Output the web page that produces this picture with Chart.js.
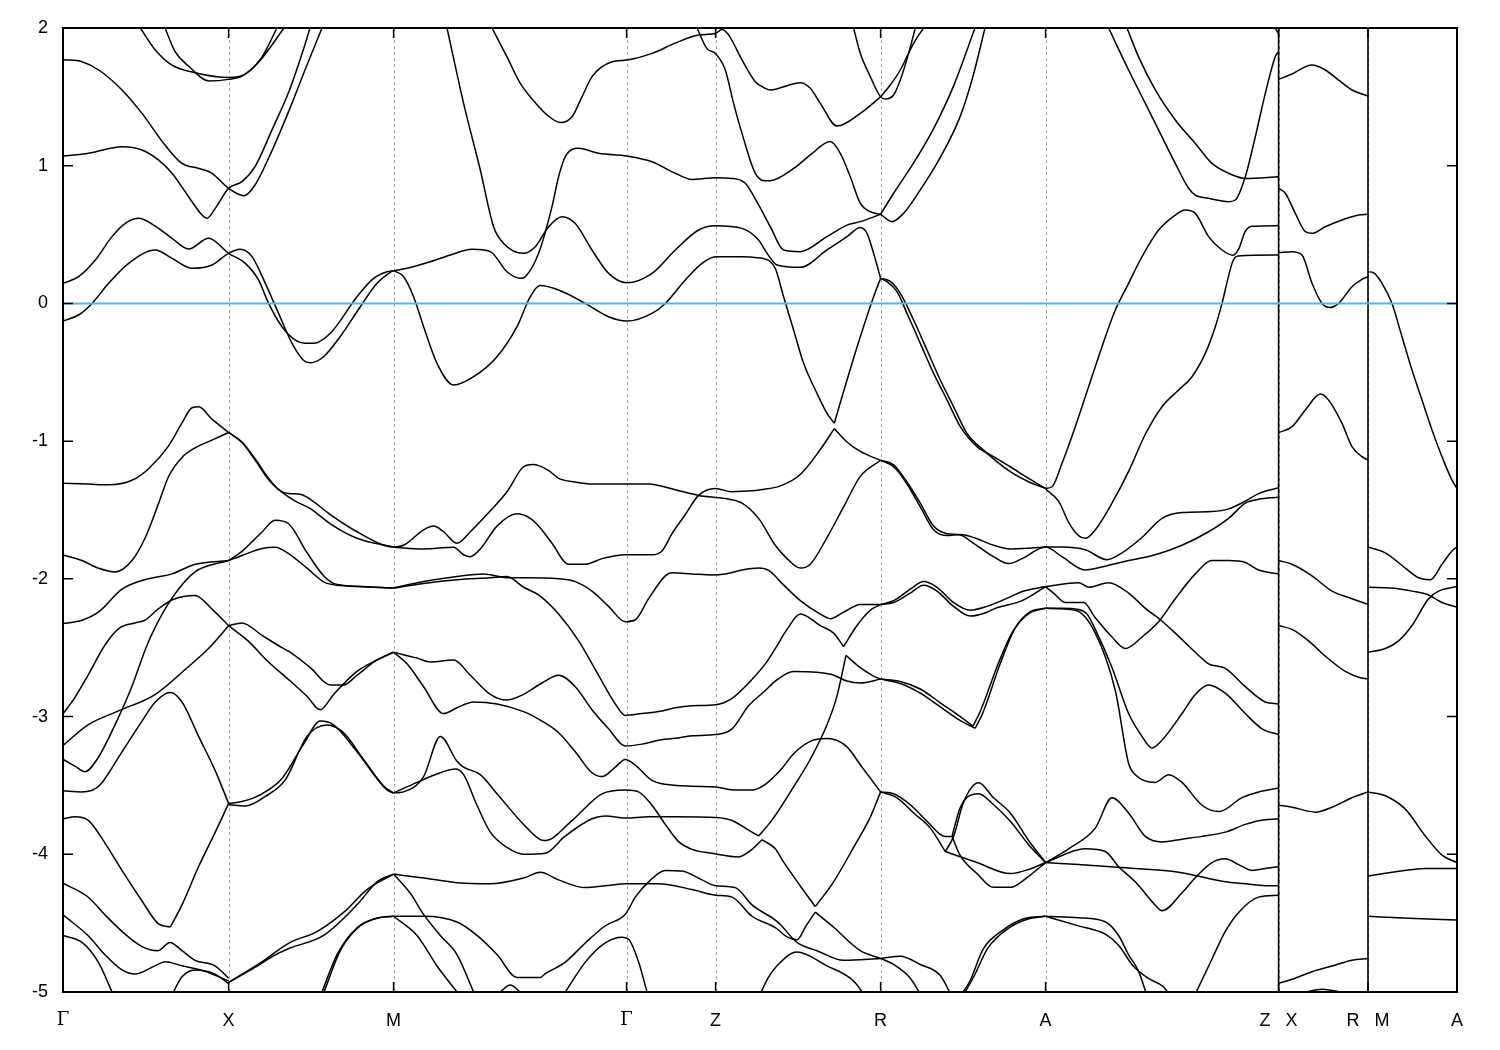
<!DOCTYPE html>
<html>
<head>
<meta charset="utf-8">
<script src="https://cdn.jsdelivr.net/npm/chart.js@4/dist/chart.umd.min.js"></script>
<style>
  body { margin: 0; background: #fff; }
</style>
</head>
<body>
<canvas id="bandChart" width="1500" height="1050"></canvas>
<script>
// high-symmetry points along the k-path
const kPoints = [0, 1.656, 3.306, 5.636, 6.526, 8.176, 9.826, 12.156, 13.05, 13.94];
const kLabels = ['Γ', 'X', 'M', 'Γ', 'Z', 'R', 'A', 'Z   X', 'R   M', 'A'];
const energyTicks = [2, 1, 0, -1, -2, -3, -4, -5];
const fermiLevel = 0;
const pathJumps = [12.156, 13.05];

// bands, each one a list of [k, E(eV)]
const bandsGX = [
  [[0.773,2.0],[0.923,1.84],[1.09,1.73],[1.32,1.675],[1.656,1.64],[1.82,1.665],[1.99,1.79],[2.14,2.0]],
  [[1.02,2.0],[1.12,1.83],[1.26,1.72],[1.46,1.615],[1.656,1.627],[1.79,1.65],[1.96,1.755],[2.21,2.0]],
  [[0,1.77],[0.19,1.755],[0.357,1.695],[0.59,1.55],[0.79,1.38],[1.02,1.15],[1.19,1.017],[1.36,0.98],[1.49,0.945],[1.656,0.836],[1.81,0.782],[1.92,0.86],[2.09,1.11],[2.26,1.40],[2.42,1.695],[2.59,2.0]],
  [[0,1.07],[0.256,1.09],[0.59,1.138],[0.79,1.114],[0.957,1.04],[1.09,0.945],[1.256,0.775],[1.39,0.642],[1.44,0.618],[1.523,0.69],[1.656,0.836],[1.79,0.884],[1.92,0.993],[2.09,1.26],[2.26,1.54],[2.42,1.88],[2.47,2.0]],
  [[0,0.146],[0.156,0.194],[0.323,0.315],[0.49,0.485],[0.623,0.581],[0.756,0.618],[0.923,0.562],[1.09,0.473],[1.256,0.395],[1.456,0.473],[1.656,0.364],[1.823,0.291],[1.956,0.17],[2.056,0.0],[2.19,-0.169],[2.323,-0.266],[2.423,-0.29],[2.506,-0.29],[2.673,-0.217],[2.94,0.049],[3.106,0.182],[3.24,0.23],[3.306,0.238]],
  [[0,-0.128],[0.156,-0.084],[0.29,0.0],[0.456,0.146],[0.656,0.291],[0.923,0.388],[1.09,0.327],[1.29,0.255],[1.49,0.279],[1.656,0.364],[1.773,0.393],[1.89,0.34],[2.023,0.146],[2.156,-0.072],[2.29,-0.29],[2.423,-0.423],[2.473,-0.43],[2.606,-0.387],[2.773,-0.24],[2.973,-0.024],[3.14,0.146],[3.273,0.226],[3.306,0.238]],
  [[0,-1.306],[0.256,-1.312],[0.456,-1.317],[0.69,-1.284],[0.856,-1.20],[1.056,-1.034],[1.19,-0.868],[1.29,-0.757],[1.356,-0.751],[1.49,-0.84],[1.656,-0.937]],
  [[0,-1.826],[0.19,-1.867],[0.357,-1.923],[0.523,-1.95],[0.69,-1.867],[0.823,-1.70],[0.957,-1.45],[1.056,-1.257],[1.19,-1.118],[1.323,-1.048],[1.49,-0.993],[1.656,-0.937]],
  [[1.656,-0.937],[1.79,-1.006],[1.923,-1.13],[2.056,-1.27],[2.156,-1.353],[2.256,-1.38],[2.373,-1.385],[2.473,-1.422],[2.673,-1.533],[2.94,-1.658],[3.206,-1.756],[3.306,-1.77]],
  [[1.656,-0.937],[1.79,-1.01],[1.923,-1.14],[2.056,-1.28],[2.19,-1.37],[2.323,-1.436],[2.473,-1.49],[2.673,-1.60],[2.94,-1.705],[3.306,-1.77]],
  [[0,-2.325],[0.19,-2.3],[0.357,-2.24],[0.59,-2.075],[0.823,-2.005],[1.09,-1.964],[1.323,-1.894],[1.656,-1.867]],
  [[0,-2.98],[0.12,-2.86],[0.25,-2.70],[0.42,-2.48],[0.56,-2.36],[0.72,-2.32],[0.82,-2.30],[0.95,-2.22],[1.1,-2.15],[1.32,-2.12],[1.49,-2.22],[1.656,-2.34]],
  [[0,-3.21],[0.25,-3.06],[0.55,-2.96],[0.92,-2.84],[1.25,-2.64],[1.45,-2.51],[1.656,-2.34]],
  [[0,-3.31],[0.12,-3.36],[0.22,-3.40],[0.35,-3.30],[0.52,-3.06],[0.69,-2.78],[0.83,-2.5],[0.93,-2.34],[1.09,-2.14],[1.32,-1.95],[1.656,-1.867]],
  [[1.656,-1.867],[1.79,-1.80],[1.99,-1.66],[2.12,-1.575],[2.256,-1.60],[2.44,-1.81],[2.606,-1.978],[2.706,-2.033],[2.94,-2.053],[3.306,-2.067]],
  [[1.656,-1.867],[1.79,-1.83],[1.99,-1.78],[2.12,-1.77],[2.273,-1.825],[2.44,-1.922],[2.64,-2.033],[2.94,-2.056],[3.306,-2.067]],
  [[1.656,-2.34],[1.79,-2.32],[1.99,-2.41],[2.19,-2.50],[2.273,-2.533],[2.473,-2.644],[2.673,-2.77],[2.806,-2.77],[2.94,-2.70],[3.14,-2.589],[3.306,-2.533]],
  [[1.656,-2.34],[1.85,-2.45],[2.05,-2.6],[2.273,-2.742],[2.44,-2.853],[2.573,-2.95],[2.706,-2.839],[2.94,-2.672],[3.14,-2.589],[3.306,-2.533]],
  [[0,-3.539],[0.19,-3.547],[0.357,-3.506],[0.59,-3.256],[0.79,-3.033],[0.923,-2.894],[1.073,-2.825],[1.19,-2.894],[1.356,-3.144],[1.523,-3.394],[1.656,-3.631]],
  [[0,-3.742],[0.123,-3.728],[0.256,-3.756],[0.423,-3.922],[0.59,-4.117],[0.79,-4.339],[0.956,-4.506],[1.073,-4.528]],
  [[1.073,-4.528],[1.19,-4.367],[1.356,-4.089],[1.523,-3.839],[1.656,-3.631]],
  [[1.656,-3.631],[1.79,-3.617],[1.99,-3.561],[2.19,-3.45],[2.406,-3.20],[2.573,-3.033],[2.706,-3.061],[2.94,-3.255],[3.206,-3.505],[3.306,-3.555]],
  [[1.656,-3.64],[1.823,-3.65],[2.023,-3.58],[2.223,-3.46],[2.44,-3.144],[2.64,-3.061],[2.806,-3.117],[3.006,-3.311],[3.24,-3.533],[3.306,-3.555]],
  [[0,-4.21],[0.25,-4.31],[0.42,-4.44],[0.59,-4.56],[0.79,-4.67],[0.95,-4.70],[1.07,-4.64],[1.19,-4.70],[1.32,-4.77],[1.52,-4.81],[1.656,-4.90]],
  [[0,-4.44],[0.25,-4.59],[0.42,-4.73],[0.59,-4.84],[0.72,-4.87],[0.92,-4.81],[1.02,-4.78],[1.19,-4.81],[1.42,-4.85],[1.656,-4.92]],
  [[0,-4.59],[0.19,-4.64],[0.35,-4.78],[0.52,-5.05]],
  [[1.07,-5.05],[1.19,-4.89],[1.32,-4.84],[1.52,-4.87],[1.656,-4.94]],
  [[1.656,-4.93],[1.9,-4.83],[2.15,-4.72],[2.273,-4.68],[2.606,-4.589],[2.94,-4.367],[3.14,-4.20],[3.306,-4.144]],
  [[1.656,-4.93],[1.95,-4.80],[2.273,-4.64],[2.54,-4.561],[2.806,-4.422],[3.04,-4.256],[3.306,-4.144]],
  [[2.59,-5.0],[2.74,-4.728],[2.94,-4.533],[3.14,-4.464],[3.306,-4.45]],
  [[2.61,-5.0],[2.773,-4.70],[2.973,-4.519],[3.173,-4.458],[3.306,-4.45]]
];

const bandsMZ = [
  [[3.306,0.238],[3.44,0.255],[3.673,0.303],[3.873,0.352],[4.09,0.393],[4.273,0.376],[4.44,0.23],[4.573,0.182],[4.623,0.194],[4.756,0.364],[4.89,0.703],[4.956,0.92],[5.023,1.066],[5.156,1.126],[5.356,1.09],[5.64,1.07],[5.89,1.029],[6.123,0.945],[6.29,0.90],[6.526,0.913],[6.69,0.908],[6.823,0.872],[6.956,0.715],[7.073,0.557],[7.206,0.388],[7.373,0.376],[7.64,0.485],[7.84,0.569],[7.973,0.594],[8.176,0.647]],
  [[3.306,0.238],[3.406,0.194],[3.506,0.049],[3.606,-0.169],[3.74,-0.435],[3.906,-0.593],[4.106,-0.532],[4.34,-0.387],[4.54,-0.169],[4.673,0.049],[4.77,0.13],[4.956,0.097],[5.223,0.0],[5.456,-0.097],[5.64,-0.128],[5.89,-0.072],[6.023,0.0],[6.223,0.17],[6.39,0.291],[6.526,0.339],[6.79,0.339],[6.923,0.334],[7.073,0.303],[7.123,0.255],[7.206,0.049],[7.306,-0.193],[7.406,-0.435],[7.54,-0.653],[7.64,-0.798],[7.713,-0.87]],
  [[3.84,2.0],[4.006,1.453],[4.173,0.969],[4.306,0.557],[4.406,0.436],[4.606,0.364],[4.723,0.412],[4.856,0.557],[4.99,0.63],[5.123,0.58],[5.29,0.388],[5.456,0.218],[5.64,0.15],[5.89,0.218],[6.123,0.388],[6.356,0.533],[6.526,0.564],[6.79,0.545],[6.956,0.46],[7.04,0.364],[7.14,0.279],[7.373,0.262],[7.64,0.388],[7.84,0.485],[7.973,0.552],[8.04,0.509],[8.106,0.364],[8.176,0.182]],
  [[4.29,2.0],[4.44,1.79],[4.573,1.598],[4.773,1.417],[4.823,1.38],[4.973,1.313],[5.09,1.356],[5.19,1.50],[5.29,1.647],[5.49,1.755],[5.64,1.768],[5.89,1.816],[6.123,1.89],[6.356,1.95],[6.523,1.96],[6.59,1.99],[6.656,1.95],[6.79,1.768],[6.923,1.61],[7.023,1.562],[7.073,1.55],[7.373,1.603],[7.473,1.562],[7.573,1.453],[7.74,1.288],[7.973,1.38],[8.176,1.50]],
  [[6.34,2.0],[6.44,1.85],[6.523,1.816],[6.623,1.695],[6.706,1.453],[6.79,1.235],[6.923,0.945],[7.023,0.89],[7.073,0.891],[7.306,0.98],[7.473,1.078],[7.673,1.175],[7.773,1.09],[7.873,0.92],[7.973,0.727],[8.073,0.666],[8.176,0.647]],
  [[3.306,-1.77],[3.406,-1.756],[3.606,-1.644],[3.706,-1.617],[3.806,-1.658],[3.94,-1.742],[4.073,-1.658],[4.273,-1.506],[4.44,-1.367],[4.606,-1.186],[4.70,-1.17],[4.85,-1.21],[4.956,-1.27],[5.123,-1.297],[5.29,-1.311],[5.623,-1.311],[5.856,-1.311],[6.123,-1.353],[6.356,-1.394],[6.623,-1.417],[6.79,-1.45],[6.956,-1.561],[7.123,-1.756],[7.24,-1.853],[7.373,-1.922],[7.473,-1.894],[7.64,-1.70],[7.806,-1.478],[7.973,-1.256],[8.176,-1.139]],
  [[3.306,-1.77],[3.606,-1.783],[3.906,-1.77],[4.006,-1.825],[4.073,-1.839],[4.173,-1.783],[4.34,-1.617],[4.54,-1.528],[4.673,-1.561],[4.756,-1.617],[4.89,-1.742],[5.056,-1.894],[5.223,-1.894],[5.39,-1.853],[5.623,-1.825],[5.89,-1.825],[5.99,-1.797],[6.09,-1.672],[6.223,-1.533],[6.356,-1.394],[6.523,-1.344],[6.69,-1.367],[6.89,-1.361],[6.973,-1.353],[7.173,-1.325],[7.373,-1.242],[7.573,-1.061],[7.713,-0.909]],
  [[3.306,-2.067],[3.606,-2.02],[3.94,-1.983],[4.206,-1.964],[4.44,-1.992],[4.623,-1.992],[4.956,-2.0],[5.123,-2.02],[5.29,-2.089],[5.456,-2.20],[5.623,-2.311],[5.723,-2.297],[5.856,-2.144],[6.023,-1.978],[6.09,-1.956],[6.29,-1.964],[6.49,-1.972],[6.623,-1.964],[6.79,-1.936],[6.956,-1.922],[7.06,-1.94],[7.2,-2.04],[7.373,-2.158],[7.573,-2.256],[7.673,-2.289],[7.806,-2.242],[7.973,-2.186],[8.176,-2.186]],
  [[3.306,-2.067],[3.606,-2.033],[3.94,-2.006],[4.273,-1.992],[4.44,-1.983],[4.606,-2.061],[4.756,-2.117],[4.956,-2.256],[5.156,-2.45],[5.356,-2.70],[5.523,-2.908],[5.623,-2.992],[5.79,-2.978],[5.956,-2.964],[6.123,-2.936],[6.29,-2.922],[6.526,-2.914],[6.69,-2.867],[6.856,-2.756],[7.023,-2.617],[7.123,-2.506],[7.24,-2.367],[7.373,-2.256],[7.573,-2.339],[7.706,-2.394],[7.806,-2.492]],
  [[7.806,-2.492],[7.94,-2.339],[8.073,-2.228],[8.176,-2.186]],
  [[3.306,-2.533],[3.54,-2.575],[3.673,-2.603],[3.906,-2.589],[4.073,-2.70],[4.273,-2.839],[4.44,-2.88],[4.606,-2.839],[4.79,-2.756],[4.956,-2.70],[5.123,-2.783],[5.29,-2.95],[5.456,-3.089],[5.623,-3.214],[5.79,-3.20],[5.956,-3.172],[6.123,-3.158],[6.29,-3.139],[6.526,-3.131],[6.69,-3.089],[6.856,-2.922],[7.023,-2.811],[7.123,-2.742],[7.306,-2.672],[7.54,-2.678],[7.689,-2.694],[7.84,-2.742],[7.973,-2.756],[8.176,-2.728]],
  [[3.306,-2.533],[3.44,-2.617],[3.606,-2.783],[3.806,-2.978],[3.94,-2.936],[4.106,-2.894],[4.34,-2.908],[4.606,-2.964],[4.79,-3.033],[4.956,-3.117],[5.123,-3.256],[5.29,-3.408],[5.39,-3.436],[5.523,-3.367],[5.623,-3.311],[5.723,-3.353],[5.89,-3.464],[6.023,-3.492],[6.29,-3.506],[6.526,-3.511],[6.723,-3.533],[6.89,-3.533],[7.023,-3.492],[7.173,-3.39],[7.306,-3.27],[7.473,-3.18],[7.64,-3.16],[7.84,-3.22],[7.973,-3.35],[8.176,-3.547]],
  [[3.306,-3.555],[3.406,-3.547],[3.606,-3.436],[3.773,-3.144],[3.94,-3.325],[4.006,-3.367],[4.173,-3.422],[4.34,-3.561],[4.606,-3.783],[4.773,-3.894],[4.823,-3.90],[5.09,-3.755],[5.39,-3.561],[5.623,-3.533],[5.756,-3.547],[5.89,-3.644],[6.023,-3.783],[6.156,-3.908],[6.29,-3.964],[6.49,-3.992],[6.756,-4.019],[6.89,-3.964],[6.99,-3.894]],
  [[6.99,-3.894],[7.123,-3.96],[7.2,-4.05],[7.373,-4.23],[7.523,-4.38]],
  [[7.523,-4.38],[7.706,-4.20],[7.906,-3.95],[8.073,-3.73],[8.176,-3.547]],
  [[3.306,-3.555],[3.54,-3.478],[3.773,-3.408],[3.923,-3.381],[4.006,-3.422],[4.14,-3.644],[4.273,-3.839],[4.44,-3.95],[4.606,-4.0],[4.823,-3.992],[5.023,-3.867],[5.29,-3.742],[5.423,-3.722],[5.623,-3.736],[5.856,-3.728],[6.123,-3.728],[6.526,-3.733],[6.69,-3.755],[6.856,-3.825],[6.956,-3.867]],
  [[6.956,-3.867],[7.056,-3.783],[7.14,-3.70],[7.306,-3.51],[7.473,-3.31],[7.64,-3.06],[7.74,-2.85],[7.83,-2.556]],
  [[7.83,-2.556],[7.973,-2.645],[8.106,-2.706],[8.176,-2.728]],
  [[3.306,-4.144],[3.606,-4.172],[3.94,-4.206],[4.273,-4.214],[4.606,-4.172],[4.773,-4.131],[4.956,-4.186],[5.223,-4.242],[5.423,-4.228],[5.636,-4.214],[5.956,-4.214],[6.29,-4.256],[6.526,-4.297],[6.69,-4.311],[6.89,-4.45],[7.123,-4.533],[7.24,-4.60],[7.34,-4.62],[7.43,-4.52],[7.523,-4.42]],
  [[7.523,-4.42],[7.706,-4.53],[7.973,-4.70],[8.176,-4.756]],
  [[3.306,-4.144],[3.473,-4.283],[3.606,-4.436],[3.773,-4.589],[3.94,-4.728],[4.106,-5.0]],
  [[3.306,-4.45],[3.606,-4.45],[3.94,-4.492],[4.14,-4.589],[4.34,-4.728],[4.54,-4.894],[4.773,-4.894],[4.823,-4.867],[5.023,-4.783],[5.223,-4.644],[5.423,-4.519],[5.623,-4.436],[5.723,-4.311],[5.856,-4.20],[6.023,-4.117],[6.19,-4.122],[6.39,-4.186],[6.526,-4.228],[6.723,-4.242],[6.89,-4.367],[7.123,-4.478],[7.173,-4.51],[7.34,-4.64],[7.54,-4.70],[7.806,-4.77],[8.176,-4.756]],
  [[3.306,-4.45],[3.54,-4.589],[3.74,-4.811],[3.94,-5.0]],
  [[4.37,-5.0],[4.473,-4.95],[4.573,-5.0]],
  [[5.023,-5.0],[5.223,-4.783],[5.423,-4.644],[5.59,-4.603],[5.656,-4.617],[5.756,-4.783],[5.84,-5.0]],
  [[6.95,-5.05],[7.05,-4.90],[7.14,-4.81],[7.34,-4.71],[7.64,-4.81],[7.906,-4.92],[8.04,-5.05]]
];

const bandsZRA = [
  [[7.713,-0.87],[7.84,-0.556],[7.973,-0.242],[8.106,0.049],[8.176,0.182]],
  [[7.713,-0.909],[7.84,-1.006],[7.973,-1.075],[8.176,-1.14]],
  [[8.176,0.647],[8.29,0.594],[8.406,0.654],[8.573,0.824],[8.773,1.06],[8.973,1.36],[9.10,1.65],[9.22,2.0]],
  [[8.176,0.647],[8.306,0.80],[8.506,1.02],[8.706,1.27],[8.906,1.58],[9.12,2.0]],
  [[7.906,2.0],[7.973,1.816],[8.073,1.647],[8.176,1.50],[8.223,1.484],[8.306,1.513],[8.373,1.622],[8.456,1.816],[8.523,2.0]],
  [[8.176,1.50],[8.273,1.586],[8.373,1.695],[8.506,1.889],[8.606,2.0]],
  [[8.176,0.182],[8.24,0.158],[8.34,0.085],[8.44,-0.072],[8.573,-0.29],[8.706,-0.508],[8.84,-0.70],[8.973,-0.895],[9.14,-1.04],[9.306,-1.113],[9.473,-1.186],[9.656,-1.27],[9.826,-1.343]],
  [[8.176,0.182],[8.273,0.16],[8.373,0.073],[8.506,-0.12],[8.64,-0.338],[8.773,-0.556],[8.906,-0.75],[9.04,-0.943],[9.206,-1.065],[9.473,-1.222],[9.656,-1.295],[9.826,-1.343]],
  [[8.176,-1.139],[8.306,-1.186],[8.44,-1.311],[8.573,-1.478],[8.706,-1.644],[8.84,-1.686],[8.973,-1.678],[9.106,-1.70],[9.306,-1.756],[9.473,-1.783],[9.656,-1.778],[9.826,-1.769],[9.99,-1.769],[10.223,-1.789],[10.44,-1.861],[10.59,-1.811],[10.79,-1.70],[10.99,-1.561],[11.19,-1.519],[11.49,-1.511],[11.656,-1.492],[11.823,-1.436],[11.956,-1.381],[12.156,-1.339]],
  [[8.176,-1.139],[8.306,-1.172],[8.44,-1.297],[8.573,-1.45],[8.706,-1.617],[8.84,-1.672],[8.973,-1.681],[9.106,-1.742],[9.306,-1.839],[9.456,-1.889],[9.59,-1.853],[9.826,-1.769],[9.99,-1.839],[10.223,-1.936],[10.423,-1.908],[10.656,-1.867],[10.923,-1.825],[11.19,-1.756],[11.456,-1.658],[11.656,-1.561],[11.823,-1.45],[11.956,-1.422],[12.156,-1.408]],
  [[8.176,-2.186],[8.306,-2.158],[8.473,-2.075],[8.606,-2.02],[8.74,-2.061],[8.906,-2.172],[9.073,-2.228],[9.24,-2.20],[9.473,-2.131],[9.6,-2.09],[9.826,-2.056]],
  [[8.176,-2.186],[8.306,-2.172],[8.473,-2.103],[8.606,-2.047],[8.74,-2.089],[8.906,-2.20],[9.073,-2.27],[9.24,-2.242],[9.323,-2.214],[9.59,-2.158],[9.826,-2.056]],
  [[8.176,-2.728],[8.373,-2.76],[8.573,-2.83],[8.773,-2.93],[8.973,-3.03],[9.123,-3.085]],
  [[8.176,-2.728],[8.373,-2.745],[8.573,-2.80],[8.773,-2.90],[8.973,-3.0],[9.10,-3.07]],
  [[9.123,-3.085],[9.20,-2.97],[9.37,-2.62],[9.52,-2.36],[9.67,-2.24],[9.826,-2.214]],
  [[9.10,-3.07],[9.18,-2.95],[9.35,-2.62],[9.50,-2.38],[9.66,-2.25],[9.826,-2.214]],
  [[8.176,-3.547],[8.306,-3.56],[8.473,-3.64],[8.64,-3.76],[8.823,-3.87],[8.89,-3.87]],
  [[8.176,-3.547],[8.34,-3.59],[8.506,-3.70],[8.673,-3.81],[8.823,-3.98]],
  [[8.823,-3.98],[8.906,-3.87],[9.006,-3.62],[9.156,-3.48],[9.306,-3.59],[9.473,-3.70],[9.656,-3.90],[9.826,-4.06]],
  [[8.89,-3.87],[8.973,-3.66],[9.156,-3.56],[9.306,-3.64],[9.473,-3.76],[9.656,-3.93],[9.826,-4.06]],
  [[8.823,-3.98],[9.14,-4.06],[9.473,-4.14],[9.656,-4.11],[9.826,-4.06]],
  [[8.89,-3.87],[8.973,-4.01],[9.14,-4.14],[9.306,-4.24],[9.473,-4.24],[9.656,-4.16],[9.826,-4.06]],
  [[8.95,-5.05],[9.07,-4.92],[9.2,-4.69],[9.4,-4.55],[9.6,-4.47],[9.826,-4.45]],
  [[8.98,-5.05],[9.10,-4.90],[9.25,-4.68],[9.45,-4.54],[9.65,-4.47],[9.826,-4.45]],
  [[8.176,-4.756],[8.373,-4.74],[8.573,-4.80],[8.773,-4.88],[8.9,-5.05]],
  [[8.176,-4.756],[8.306,-4.80],[8.473,-4.90],[8.6,-5.05]]
];

const bandsAZ = [
  [[9.826,-1.343],[9.89,-1.331],[9.99,-1.161],[10.123,-0.895],[10.256,-0.605],[10.39,-0.314],[10.523,-0.048],[10.656,0.146],[10.79,0.339],[10.956,0.533],[11.123,0.642],[11.223,0.678],[11.323,0.654],[11.456,0.485],[11.59,0.388],[11.70,0.35],[11.76,0.40],[11.82,0.52],[11.89,0.56],[12.156,0.565]],
  [[9.826,-1.348],[9.956,-1.436],[10.056,-1.589],[10.156,-1.686],[10.223,-1.706],[10.323,-1.644],[10.49,-1.45],[10.656,-1.22],[10.823,-0.95],[10.99,-0.75],[11.156,-0.629],[11.29,-0.532],[11.423,-0.363],[11.523,-0.169],[11.59,0.0],[11.656,0.2],[11.70,0.31],[11.75,0.345],[12.156,0.351]],
  [[10.456,2.0],[10.656,1.695],[10.823,1.453],[10.99,1.21],[11.123,1.017],[11.256,0.836],[11.323,0.787],[11.456,0.763],[11.656,0.739],[11.723,0.751],[11.823,0.92],[11.923,1.21],[12.023,1.525],[12.123,1.792],[12.156,1.828]],
  [[10.64,2.0],[10.756,1.79],[10.923,1.55],[11.123,1.332],[11.323,1.162],[11.49,1.017],[11.656,0.945],[11.823,0.908],[12.156,0.92]],
  [[12.09,2.03],[12.156,1.96]],
  [[9.826,-2.056],[10.156,-2.028],[10.256,-2.061],[10.456,-2.028],[10.656,-2.103],[10.823,-2.214],[10.973,-2.297],[11.123,-2.394],[11.323,-2.533],[11.456,-2.617],[11.623,-2.65],[11.823,-2.783],[12.023,-2.894],[12.156,-2.908]],
  [[9.826,-2.056],[9.926,-2.117],[10.023,-2.172],[10.206,-2.172],[10.323,-2.283],[10.49,-2.422],[10.623,-2.506],[10.79,-2.422],[10.956,-2.311],[11.123,-2.144],[11.323,-1.964],[11.49,-1.867],[11.656,-1.867],[11.823,-1.881],[11.956,-1.936],[12.156,-1.964]],
  [[9.826,-2.214],[9.99,-2.214],[10.156,-2.222],[10.24,-2.256],[10.323,-2.367],[10.49,-2.644],[10.656,-2.978],[10.79,-3.144],[10.89,-3.228],[10.99,-3.172],[11.19,-2.978],[11.323,-2.839],[11.456,-2.77],[11.623,-2.83],[11.823,-2.978],[11.99,-3.089],[12.156,-3.131]],
  [[9.826,-2.214],[10.123,-2.228],[10.323,-2.394],[10.523,-2.811],[10.656,-3.339],[10.723,-3.422],[10.923,-3.478],[11.056,-3.422],[11.19,-3.478],[11.39,-3.644],[11.56,-3.69],[11.79,-3.589],[11.956,-3.547],[12.156,-3.519]],
  [[9.826,-4.06],[10.056,-3.96],[10.323,-3.81],[10.49,-3.59],[10.656,-3.70],[10.823,-3.87],[10.99,-3.91],[11.19,-3.89],[11.39,-3.87],[11.623,-3.839],[11.823,-3.783],[11.956,-3.756],[12.156,-3.742]],
  [[9.826,-4.06],[10.156,-4.075],[10.656,-4.10],[11.156,-4.13],[11.623,-4.20],[11.823,-4.214],[12.023,-4.228],[12.156,-4.228]],
  [[9.826,-4.06],[10.223,-3.96],[10.423,-3.98],[10.556,-4.09],[10.723,-4.20],[10.923,-4.37],[10.99,-4.41],[11.19,-4.28],[11.323,-4.17],[11.49,-4.06],[11.623,-4.033],[11.756,-4.075],[11.89,-4.117],[12.023,-4.103],[12.156,-4.089]],
  [[9.826,-4.45],[10.156,-4.46],[10.423,-4.49],[10.556,-4.59],[10.656,-4.73],[10.756,-4.85],[10.85,-5.05]],
  [[9.826,-4.45],[10.156,-4.52],[10.423,-4.58],[10.556,-4.66],[10.70,-4.81],[10.85,-4.90],[11.0,-4.96],[11.1,-5.05]],
  [[11.3,-5.05],[11.49,-4.76],[11.623,-4.56],[11.756,-4.422],[11.956,-4.311],[12.156,-4.297]]
];

const bandsXR = [
  [[12.156,1.627],[12.29,1.666],[12.49,1.731],[12.623,1.695],[12.756,1.622],[12.89,1.55],[13.05,1.506]],
  [[12.156,0.836],[12.223,0.80],[12.323,0.654],[12.423,0.521],[12.49,0.509],[12.623,0.557],[12.79,0.606],[12.956,0.642],[13.05,0.647]],
  [[12.156,0.368],[12.29,0.376],[12.39,0.351],[12.49,0.146],[12.59,0.0],[12.673,-0.029],[12.756,0.0],[12.89,0.121],[12.99,0.175],[13.05,0.194]],
  [[12.156,-0.939],[12.29,-0.895],[12.423,-0.774],[12.573,-0.658],[12.656,-0.702],[12.79,-0.871],[12.89,-1.04],[12.99,-1.113],[13.05,-1.137]],
  [[12.156,-1.867],[12.29,-1.894],[12.49,-1.978],[12.69,-2.089],[12.89,-2.144],[13.05,-2.186]],
  [[12.156,-2.339],[12.29,-2.367],[12.456,-2.45],[12.623,-2.561],[12.823,-2.672],[12.956,-2.714],[13.05,-2.728]],
  [[12.156,-3.644],[12.29,-3.658],[12.523,-3.694],[12.69,-3.658],[12.89,-3.589],[13.05,-3.547]],
  [[12.156,-4.936],[12.29,-4.908],[12.49,-4.853],[12.69,-4.811],[12.89,-4.769],[13.05,-4.756]],
  [[12.42,-5.0],[12.59,-4.98],[12.79,-5.0]]
];

const bandsMA = [
  [[13.05,0.23],[13.106,0.223],[13.19,0.146],[13.29,0.0],[13.39,-0.242],[13.49,-0.484],[13.59,-0.702],[13.69,-0.919],[13.79,-1.113],[13.89,-1.283],[13.94,-1.343]],
  [[13.05,-1.769],[13.223,-1.811],[13.423,-1.922],[13.556,-1.992],[13.673,-2.006],[13.79,-1.894],[13.89,-1.797],[13.94,-1.769]],
  [[13.05,-2.061],[13.29,-2.067],[13.49,-2.089],[13.656,-2.117],[13.79,-2.172],[13.94,-2.206]],
  [[13.05,-2.533],[13.223,-2.506],[13.356,-2.45],[13.49,-2.339],[13.656,-2.144],[13.756,-2.089],[13.94,-2.056]],
  [[13.05,-3.547],[13.223,-3.575],[13.423,-3.672],[13.623,-3.867],[13.79,-4.006],[13.94,-4.061]],
  [[13.05,-4.158],[13.29,-4.131],[13.623,-4.103],[13.94,-4.103]],
  [[13.05,-4.45],[13.456,-4.464],[13.94,-4.478]]
];

const allBands = [].concat(bandsGX, bandsMZ, bandsZRA, bandsAZ, bandsXR, bandsMA);

const datasets = [{
  data: [{x: kPoints[0], y: fermiLevel}, {x: kPoints[kPoints.length - 1], y: fermiLevel}],
  borderColor: '#56b4e9', borderWidth: 2, pointRadius: 0
}];
pathJumps.forEach(k => datasets.push({
  data: [{x: k, y: -5}, {x: k, y: 2}],
  borderColor: '#000', borderWidth: 1.6, pointRadius: 0
}));
allBands.forEach(band => datasets.push({
  data: band.map(p => ({x: p[0], y: p[1]})),
  borderColor: '#000', borderWidth: 1.5, pointRadius: 0,
  cubicInterpolationMode: 'monotone'
}));

// gnuplot-like frame: dashed k-lines, inward ticks on all four sides
const framePlugin = {
  id: 'frame',
  beforeDatasetsDraw(chart) {
    const {ctx, chartArea: a, scales: {x}} = chart;
    ctx.save();
    ctx.strokeStyle = '#a0a0a0';
    ctx.lineWidth = 1;
    ctx.setLineDash([3, 3]);
    kPoints.slice(1, -1).forEach(k => {
      const px = Math.round(x.getPixelForValue(k)) + 0.5;
      ctx.beginPath();
      ctx.moveTo(px, a.top);
      ctx.lineTo(px, a.bottom);
      ctx.stroke();
    });
    ctx.restore();
  },
  afterDatasetsDraw(chart) {
    const {ctx, chartArea: a, scales: {x, y}} = chart;
    ctx.save();
    ctx.strokeStyle = '#000';
    ctx.lineWidth = 1.5;
    ctx.beginPath();
    energyTicks.forEach(v => {
      const py = y.getPixelForValue(v);
      ctx.moveTo(a.left, py); ctx.lineTo(a.left + 10, py);
      ctx.moveTo(a.right, py); ctx.lineTo(a.right - 10, py);
    });
    kPoints.forEach(k => {
      const px = x.getPixelForValue(k);
      ctx.moveTo(px, a.top); ctx.lineTo(px, a.top + 10);
      ctx.moveTo(px, a.bottom); ctx.lineTo(px, a.bottom - 10);
    });
    ctx.stroke();
    ctx.lineWidth = 2;
    ctx.strokeRect(a.left, a.top, a.right - a.left, a.bottom - a.top);
    ctx.restore();
  }
};

new Chart(document.getElementById('bandChart'), {
  type: 'line',
  data: { datasets: datasets },
  plugins: [framePlugin],
  options: {
    responsive: false,
    animation: false,
    layout: { padding: { top: 28, right: 43, left: 0, bottom: 0 } },
    plugins: { legend: { display: false }, tooltip: { enabled: false } },
    elements: { line: { fill: false } },
    scales: {
      x: {
        type: 'linear', min: 0, max: 13.94,
        afterBuildTicks: axis => { axis.ticks = kPoints.map(v => ({ value: v })); },
        afterFit: axis => { axis.height = 58; },
        grid: { display: false, drawTicks: false },
        border: { display: false },
        ticks: {
          autoSkip: false, maxRotation: 0, padding: 18, color: '#000',
          callback: (v, i) => kLabels[i],
          font: c => ({ family: kLabels[c.index] === 'Γ' ? 'DejaVu Serif' : 'Liberation Sans, Arial', size: 18 })
        }
      },
      y: {
        type: 'linear', min: -5, max: 2,
        afterBuildTicks: axis => { axis.ticks = energyTicks.map(v => ({ value: v })); },
        afterFit: axis => { axis.width = 63; },
        grid: { display: false, drawTicks: false },
        border: { display: false },
        ticks: { padding: 15, color: '#000', font: { family: 'Liberation Sans, Arial', size: 18 } }
      }
    }
  }
});
</script>
</body>
</html>
